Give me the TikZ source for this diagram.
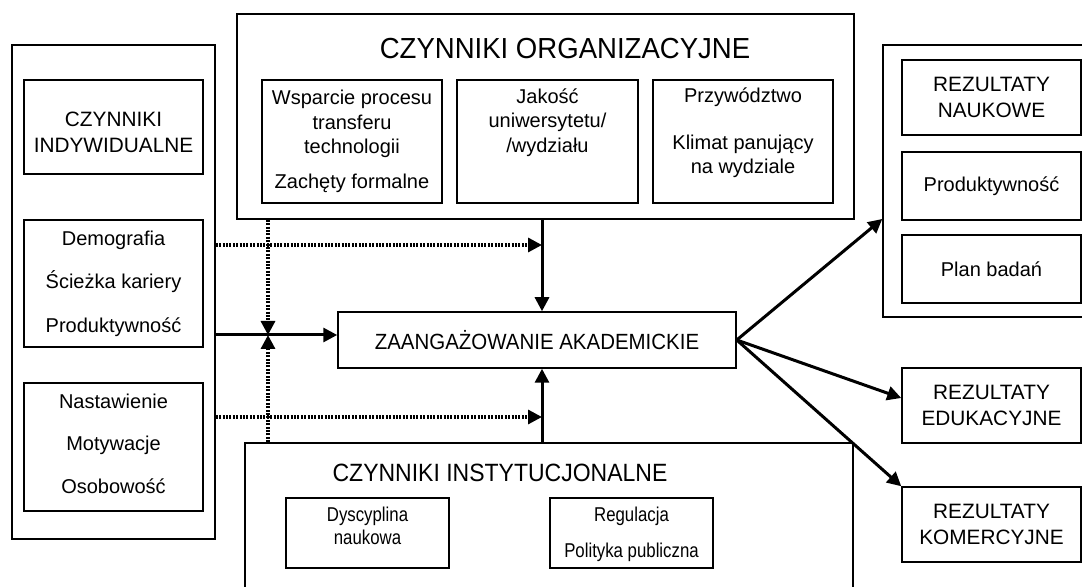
\documentclass[tikz,border=0pt]{standalone}
\usepackage{fontspec}
\setmainfont{Liberation Sans}
\newfontfamily\condfont[FakeStretch=0.84]{Liberation Sans}
\newfontfamily\zaanfont[FakeStretch=0.93]{Liberation Sans}
\newfontfamily\orgfont[FakeStretch=0.95]{Liberation Sans}
\newfontfamily\instfont[FakeStretch=0.92]{Liberation Sans}
\usetikzlibrary{arrows.meta}

\newcommand{\topgap}[1]{\rule{0pt}{#1}}
\newcommand{\botgap}[1]{\rule[-#1]{0pt}{#1}}

\tikzset{
    box/.style={draw, rectangle, line width=0.75pt, align=center, inner sep=0pt, font=\fontsize{10}{12.25}\selectfont},
    headbox/.style={box, font=\fontsize{10.4}{13}\selectfont},
    smallbox/.style={box, font=\condfont\fontsize{10}{11.5}\selectfont},
    arr/.style={line width=1.5pt, -{Triangle[length=7pt, width=7pt]}},
    dotarr/.style={line width=1.6pt, dash pattern=on 1pt off 0.7pt, -{Triangle[length=7pt, width=7pt]}}
}

\begin{document}
\begin{tikzpicture}[x=0.5pt, y=-0.5pt]
        \useasboundingbox (0,0) rectangle (1082,587);
        \clip (0,0) rectangle (1082,587);

        % Czynniki indywidualne
        \node (indiv) [box, minimum width=101.5pt, minimum height=247pt] at (113.5,292) {};
        \node (indtitle) [headbox, minimum width=89.5pt, minimum height=47pt] at (113.5,127) {\topgap{13pt}CZYNNIKI\\INDYWIDUALNE};
        \node (demo) [box, minimum width=89.5pt, minimum height=63.5pt] at (113.5,283.5) {Demografia\\[9.5pt]Ścieżka kariery\\[9.5pt]Produktywność};
        \node (nast) [box, minimum width=89.5pt, minimum height=64pt] at (113.5,447) {Nastawienie\\[9pt]Motywacje\\[9pt]Osobowość\strut};

        % Czynniki organizacyjne
        \node (org) [box, minimum width=308.5pt, minimum height=102.5pt] at (545.5,116.5) {};
        \node (orgtitle) [font=\orgfont\fontsize{14.5}{17}\selectfont] at (565,49) {CZYNNIKI ORGANIZACYJNE};
        \node (wsp) [box, minimum width=90pt, minimum height=61.5pt] at (352,141.5) {Wsparcie procesu\\transferu\\technologii\\[5pt]Zachęty formalne};
        \node (jak) [box, minimum width=90.5pt, minimum height=61.5pt] at (547.5,141.5) {Jakość\\uniwersytetu/\\/wydziału\\[5pt]\strut};
        \node (prz) [box, minimum width=90pt, minimum height=61.5pt] at (743,141.5) {Przywództwo\\[11pt]Klimat panujący\\na wydziale\\[-5.5pt]\strut};

        % Zaangazowanie
        \node (zaan) [box, minimum width=199pt, minimum height=28pt, font=\zaanfont\fontsize{11}{13}\selectfont] at (537,340) {ZAANGAŻOWANIE AKADEMICKIE};

        % Czynniki instytucjonalne
        \node (inst) [box, minimum width=304pt, minimum height=78.5pt] at (549,521.5) {};
        \node (insttitle) [font=\instfont\fontsize{12.5}{15}\selectfont] at (500,473) {CZYNNIKI INSTYTUCJONALNE};
        \node (dysc) [smallbox, minimum width=81.5pt, minimum height=35pt] at (367.5,533) {Dyscyplina\\naukowa\botgap{6.85pt}};
        \node (reg) [smallbox, minimum width=81.5pt, minimum height=35pt] at (631.5,533) {\topgap{8.2pt}Regulacja\\[6.5pt]Polityka publiczna};

        % Rezultaty
        \node (nauk) [box, minimum width=108.5pt, minimum height=136pt] at (991.5,181) {};
        \node (rezn) [headbox, minimum width=89.5pt, minimum height=37.5pt] at (991.5,97.5) {REZULTATY\\NAUKOWE};
        \node (prod) [box, minimum width=89.5pt, minimum height=34pt] at (991.5,186) {Produktywność};
        \node (plan) [box, minimum width=89.5pt, minimum height=34pt] at (991.5,269) {Plan badań};
        \node (edu) [headbox, minimum width=89.5pt, minimum height=37.5pt] at (991.5,405.5) {REZULTATY\\EDUKACYJNE};
        \node (kom) [headbox, minimum width=89.5pt, minimum height=37.5pt] at (991.5,524.5) {REZULTATY\\KOMERCYJNE};

        % Punkty pomocnicze
        \coordinate (axis) at (542,340);
        \coordinate (junc) at (268,335);
        \coordinate (dtop) at (542,245);
        \coordinate (dbot) at (542,417);

        % Strzalki
        \draw[arr] (org.south -| axis) -- (zaan.north -| axis);
        \draw[arr] (inst.north -| axis) -- (zaan.south -| axis);
        \draw[arr] (indiv.east |- junc) -- (zaan.west |- junc);
        \draw[dotarr] (indiv.east |- dtop) -- (dtop);
        \draw[dotarr] (indiv.east |- dbot) -- (dbot);
        \draw[dotarr] (org.south -| junc) -- (junc);
        \draw[dotarr] (inst.north -| junc) -- (junc);
        \draw[arr] (zaan.east) -- ([yshift=-19pt]nauk.west);
        \draw[arr] (zaan.east) -- ([yshift=3.75pt]edu.west);
        \draw[arr] (zaan.east) -- (kom.north west);
    \end{tikzpicture}
\end{document}
